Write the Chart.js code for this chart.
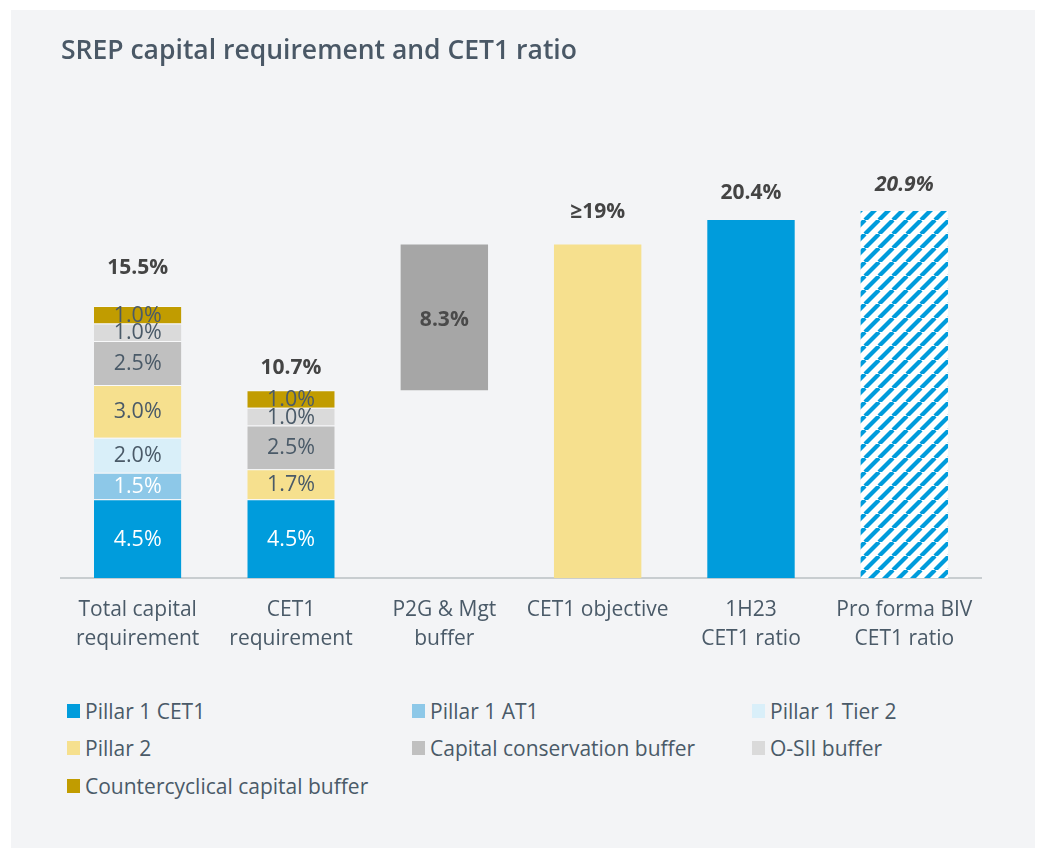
<!DOCTYPE html>
<html>
<head>
<meta charset="utf-8">
<title>SREP capital requirement and CET1 ratio</title>
<script src="https://cdn.jsdelivr.net/npm/chart.js@4.4.0/dist/chart.umd.min.js"></script>
<style>
  body { margin: 0; background: #ffffff; font-family: "Open Sans", sans-serif; }
  #panel { position: absolute; left: 11px; top: 10px; width: 1024px; height: 838px; background: #f3f4f6; }
  #chart-wrap { position: absolute; left: 0; top: 0; width: 1024px; height: 680px; }
  #legend { position: absolute; left: 56px; top: 682px; display: grid; grid-template-columns: 345px 340px 280px; }
  .item { display: flex; align-items: center; height: 37.5px; font-size: 21px; color: #4a5a68; white-space: nowrap; }
  .sw { width: 13px; height: 14px; margin-right: 5px; flex: none; }
</style>
</head>
<body>
<div id="panel">
  <div id="chart-wrap"><canvas id="graficoSrep"></canvas></div>
  <div id="legend"></div>
</div>
<script>
// categorias e valores (%)
const categories = [
    ['Total capital', 'requirement'],
    ['CET1', 'requirement'],
    ['P2G & Mgt', 'buffer'],
    'CET1 objective',
    ['1H23', 'CET1 ratio'],
    ['Pro forma BIV', 'CET1 ratio']
];
const pillar1Cet1 = [4.5, 4.5, null, null, null, null];
const pillar1At1 = [1.5, null, null, null, null, null];
const pillar1Tier2 = [2.0, null, null, null, null, null];
const pillar2 = [3.0, 1.7, null, null, null, null];
const capitalConservation = [2.5, 2.5, null, null, null, null];
const osiiBuffer = [1.0, 1.0, null, null, null, null];
const countercyclical = [1.0, 1.0, null, null, null, null];
// P2G vai de CET1 requirement até o objetivo
const p2gRange = [10.7, 19.0];
const cet1Objective = 19;
const cet1Ratio1H23 = 20.4;
const cet1RatioProForma = 20.9;

const layers = [
    { label: 'Pillar 1 CET1', data: pillar1Cet1, color: '#009cdc', text: '#ffffff' },
    { label: 'Pillar 1 AT1', data: pillar1At1, color: '#8dc8e8', text: '#ffffff' },
    { label: 'Pillar 1 Tier 2', data: pillar1Tier2, color: '#d9eff9', text: '#4a5a68' },
    { label: 'Pillar 2', data: pillar2, color: '#f6e08e', text: '#4a5a68' },
    { label: 'Capital conservation buffer', data: capitalConservation, color: '#c0c0c0', text: '#4a5a68' },
    { label: 'O-SII buffer', data: osiiBuffer, color: '#dadada', text: '#4a5a68' },
    { label: 'Countercyclical capital buffer', data: countercyclical, color: '#c19c00', text: '#4a5a68' }
];

// Hachurado azul para o pro forma
function criarHachura() {
    const s = 14;
    const c = document.createElement('canvas');
    c.width = s; c.height = s;
    const g = c.getContext('2d');
    g.fillStyle = '#ffffff';
    g.fillRect(0, 0, s, s);
    g.strokeStyle = '#009cdc';
    g.lineWidth = 4.2;
    [-s, 0, s].forEach(function (o) {
        g.beginPath();
        g.moveTo(o, s);
        g.lineTo(o + s, 0);
        g.stroke();
    });
    return g.createPattern(c, 'repeat');
}

function formatar(v, i) {
    if (categories[i] === 'CET1 objective') return '\u2265' + v + '%';
    return v.toFixed(1) + '%';
}

const ratioData = [null, null, p2gRange, cet1Objective, cet1Ratio1H23, cet1RatioProForma];

const datasets = layers.map(function (l) {
    return {
        label: l.label,
        data: l.data,
        backgroundColor: l.color,
        borderColor: 'rgba(255,255,255,0.45)',
        borderWidth: { top: 1, left: 0, right: 0, bottom: 0 },
        borderSkipped: false,
        textColor: l.text,
        stack: 's'
    };
});
datasets.push({
    label: 'ratios',
    data: ratioData,
    backgroundColor: ['#000', '#000', '#a6a6a6', '#f6e08e', '#009cdc', criarHachura()],
    borderWidth: 0,
    stack: 's',
    isRatio: true
});

// Rótulos dos segmentos e totais
const rotulos = {
    id: 'rotulos',
    afterDatasetsDraw(chart, args, opts) {
        const ctx = chart.ctx;
        ctx.save();
        ctx.textAlign = 'center';
        ctx.textBaseline = 'middle';
        chart.data.datasets.forEach(function (ds, di) {
            const meta = chart.getDatasetMeta(di);
            meta.data.forEach(function (bar, i) {
                const v = ds.data[i];
                if (v == null) return;
                if (!ds.isRatio) {
                    ctx.font = '21.5px "Open Sans"';
                    ctx.fillStyle = ds.textColor;
                    ctx.fillText(formatar(v, i), bar.x, (bar.y + bar.base) / 2 + 1);
                } else if (Array.isArray(v)) {
                    ctx.font = 'bold 21px "Open Sans"';
                    ctx.fillStyle = '#4a4a4a';
                    ctx.fillText(formatar(v[1] - v[0], i), bar.x, (bar.y + bar.base) / 2 + 3);
                } else {
                    ctx.font = (i === 5 ? 'italic ' : '') + 'bold 21px "Open Sans"';
                    ctx.fillStyle = '#444444';
                    ctx.fillText(formatar(v, i), bar.x, bar.y - opts.topOffsets[i]);
                }
            });
        });
        // totais das barras empilhadas
        [0, 1].forEach(function (i) {
            let total = 0, topo = Infinity, x = 0;
            chart.data.datasets.forEach(function (ds, di) {
                if (ds.isRatio || ds.data[i] == null) return;
                total += ds.data[i];
                const bar = chart.getDatasetMeta(di).data[i];
                topo = Math.min(topo, bar.y);
                x = bar.x;
            });
            ctx.font = 'bold 21px "Open Sans"';
            ctx.fillStyle = '#444444';
            ctx.fillText(formatar(total, i), x, topo - opts.topOffsets[i]);
        });
        ctx.restore();
    }
};

new Chart(document.getElementById('graficoSrep'), {
    type: 'bar',
    data: { labels: categories, datasets: datasets },
    options: {
        responsive: true,
        maintainAspectRatio: false,
        animation: false,
        layout: { padding: { left: 50, right: 54, top: 0, bottom: 19 } },
        datasets: { bar: { categoryPercentage: 1, barPercentage: 0.57 } },
        scales: {
            x: {
                stacked: true,
                grid: { display: false, drawTicks: false },
                border: { display: true, color: '#c8cdd0', width: 2 },
                ticks: {
                    padding: 17,
                    color: '#4a5a68',
                    font: { family: 'Open Sans', size: 21, lineHeight: 1.4 },
                    maxRotation: 0,
                    autoSkip: false
                }
            },
            y: { stacked: true, display: false, min: 0, max: 22 }
        },
        plugins: {
            legend: { display: false },
            tooltip: { enabled: false },
            title: {
                display: true,
                text: 'SREP capital requirement and CET1 ratio',
                align: 'start',
                color: '#4a5866',
                font: { family: 'Open Sans', size: 26.5, weight: '600', lineHeight: 1.2 },
                padding: { top: 26, bottom: 124 }
            },
            rotulos: { topOffsets: [38, 22, 0, 32, 27, 26] }
        }
    },
    plugins: [rotulos]
});

// Legenda em três colunas
const legenda = document.getElementById('legend');
layers.forEach(function (l) {
    const item = document.createElement('div');
    item.className = 'item';
    const sw = document.createElement('span');
    sw.className = 'sw';
    sw.style.background = l.color;
    item.appendChild(sw);
    item.appendChild(document.createTextNode(l.label));
    legenda.appendChild(item);
});
</script>
</body>
</html>
